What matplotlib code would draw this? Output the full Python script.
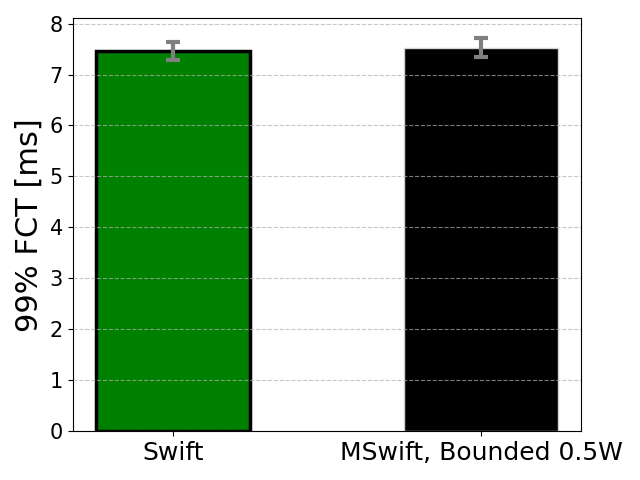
import matplotlib
matplotlib.use("Agg")
import matplotlib.pyplot as plt

categories = ["Swift", "MSwift, Bounded 0.5W"]
values = [7.46, 7.53]
errors = [0.18, 0.19]
colors = ["green", "black"]
edgecolors = ["black", "lightgray"]
linewidths = [2.5, 1.0]

fig, ax = plt.subplots(figsize=(6.4, 4.8), dpi=100)
x = list(range(len(categories)))
ax.bar(x, values, width=0.5, color=colors, edgecolor=edgecolors, linewidth=linewidths,
       yerr=errors, error_kw=dict(ecolor="gray", elinewidth=3, capsize=5, capthick=3))
ax.set_xticks(x)
ax.set_xticklabels(categories, fontsize=18)
ax.tick_params(axis="y", labelsize=15)
ax.set_ylabel("99% FCT [ms]", fontsize=22)
ax.yaxis.grid(True, linestyle="--", alpha=0.7)
ax.set_axisbelow(False)
fig.tight_layout()
fig.savefig("out.png")
